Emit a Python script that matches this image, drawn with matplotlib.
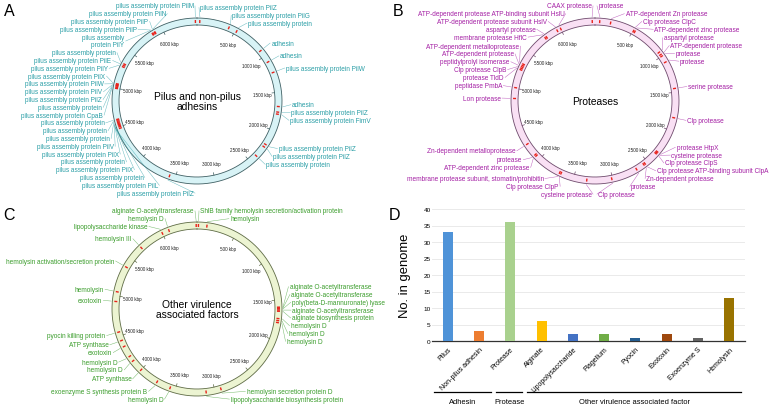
import numpy as np
import matplotlib
matplotlib.use("Agg")
import matplotlib.pyplot as plt

plt.rcParams["font.family"] = ["Liberation Sans", "DejaVu Sans"]

GENOME_KBP = 6450
TICK_KBP = list(range(500, 6001, 500))

# --- Panel A: pilus and non-pilus adhesins (name, position in kbp)
adh_names = [
    "pilus assembly protein PilZ", "pilus assembly protein PilG", "pilus assembly protein",
    "adhesin", "adhesin", "pilus assembly protein PilW", "adhesin",
    "pilus assembly protein PilZ", "pilus assembly protein FimV",
    "pilus assembly protein PilZ", "pilus assembly protein PilZ", "pilus assembly protein",
    "pilus assembly protein PilZ", "pilus assembly protein PilL", "pilus assembly protein",
    "pilus assembly protein PilX", "pilus assembly protein", "pilus assembly protein PilX",
    "pilus assembly protein PilV", "pilus assembly protein", "pilus assembly protein",
    "pilus assembly protein", "pilus assembly protein CpaB", "pilus assembly protein",
    "pilus assembly protein PilZ", "pilus assembly protein PilV", "pilus assembly protein PilW",
    "pilus assembly protein PilX", "pilus assembly protein PilY", "pilus assembly protein PilE",
    "pilus assembly protein", "pilus assembly\nprotein PilY", "pilus assembly protein PilP",
    "pilus assembly protein PilP", "pilus assembly protein PilN", "pilus assembly protein PilM",
]
adh_kbp = [35, 412, 520, 914, 1086, 1236, 1684, 1756, 1783, 2204, 2240, 2392, 3578,
           4480, 4500, 4515, 4530, 4545, 4560, 4575, 4590, 4600,
           5000, 5015, 5030, 5040, 5050, 5060, 5290, 5310, 5330,
           5860, 5870, 5890, 5900, 6430]

# --- Panel B: proteases
prot_names = [
    "protease", "ATP-dependent Zn protease", "Clp protease ClpC", "ATP-dependent zinc protease",
    "aspartyl protease", "ATP-dependent protease", "protease", "protease", "serine protease",
    "Clp protease", "protease HtpX", "cysteine protease", "Clp protease ClpS",
    "Clp protease ATP-binding subunit ClpA", "Zn-dependent protease", "protease", "Clp protease",
    "cysteine protease", "Clp protease ClpP", "membrane protease subunit, stomatin/prohibitin",
    "ATP-dependent zinc protease", "protease", "Zn-dependent metalloprotease", "Lon protease",
    "peptidase PmbA", "protease TldD", "Clp protease ClpB", "peptidylprolyl isomerase",
    "ATP-dependent protease", "ATP-dependent metalloprotease", "membrane protease HflC",
    "aspartyl protease", "ATP-dependent protease subunit HslV",
    "ATP-dependent protease ATP-binding subunit HslU", "CAAX protease",
]
prot_kbp = [60, 200, 510, 530, 940, 975, 1000, 1090, 1450, 1830, 2320, 2335, 2350, 2540,
            2560, 2670, 3010, 3330, 3670, 3690, 4060, 4080, 4250, 4870, 5010, 5250, 5270,
            5290, 5310, 5330, 5770, 5790, 5950, 6000, 6415]

# --- Panel C: other virulence associated factors
oth_names = [
    "ShlB family hemolysin secretion/activation protein", "hemolysin",
    "alginate O-acetyltransferase", "alginate O-acetyltransferase",
    "poly(beta-D-mannuronate) lyase", "alginate O-acetyltransferase",
    "alginate biosynthesis protein", "hemolysin D", "hemolysin D", "hemolysin D",
    "hemolysin secretion protein D", "lipopolysaccharide biosynthesis protein", "hemolysin D",
    "exoenzyme S synthesis protein B", "ATP synthase", "hemolysin D", "hemolysin D", "exotoxin",
    "ATP synthase", "pyocin killing protein", "exotoxin", "hemolysin",
    "hemolysin activation/secretion protein", "hemolysin III", "lipopolysaccharide kinase",
    "hemolysin D", "alginate O-acetyltransferase",
]
oth_kbp = [18, 125, 1590, 1600, 1610, 1625, 1640, 1730, 1755, 1780, 2920, 3110, 3570, 3750,
           4000, 4150, 4220, 4360, 4440, 4550, 4930, 5050, 5375, 5680, 6000, 6090, 6440]

# --- Panel D: counts per category
categories = ["Pilus", "Non-pilus adhesin", "Protease", "Alginate", "Lipopolysaccharide",
              "Flagellum", "Pyocin", "Exotoxin", "Exoenzyme S", "Hemolysin"]
counts = [33, 3, 36, 6, 2, 2, 1, 2, 1, 13]
bar_colors = ["#4f93d8", "#ed7d31", "#a9d18e", "#ffc000", "#4472c4",
              "#70ad47", "#255e91", "#9e480e", "#636363", "#997300"]
groups = [("Adhesin", 0, 1), ("Protease", 2, 2), ("Other virulence associated factor", 3, 9)]


def spread(want, heights, lo, hi):
    """Push label centres apart so they don't overlap, keeping clusters centred."""
    def place(a, b):
        h = np.array(heights[a:b])
        tops = np.concatenate([[0], np.cumsum(h)])
        top = np.mean(np.array(want[a:b]) - (tops[:-1] + h / 2))
        return min(max(top, lo), hi - tops[-1]), tops[-1]

    clusters = []
    for i in range(len(want)):
        clusters.append([i, i + 1])
        while len(clusters) > 1:
            (a, b), (c, d) = clusters[-2], clusters[-1]
            t1, h1 = place(a, b)
            t2, _ = place(c, d)
            if t1 + h1 > t2:
                clusters[-2:] = [[a, d]]
            else:
                break
    ys = []
    for a, b in clusters:
        y, _ = place(a, b)
        for k in range(a, b):
            ys.append(y + heights[k] / 2)
            y += heights[k]
    return ys


def draw_map(ax, cx, cy, rx, ry, names, kbp, title, fill, edge, color, ylo, yhi, row=7.8):
    t = np.linspace(0, 2 * np.pi, 500)
    w = 7
    xo, yo = cx + rx * np.sin(t), cy - ry * np.cos(t)
    xi, yi = cx + (rx - w) * np.sin(t), cy - (ry - w) * np.cos(t)
    ax.fill(np.r_[xo, xi[::-1]], np.r_[yo, yi[::-1]], color=fill, lw=0)
    ax.plot(xo, yo, color=edge, lw=0.6)
    ax.plot(xi, yi, color=edge, lw=0.6)

    for k in TICK_KBP:
        a = 2 * np.pi * k / GENOME_KBP
        s, c = np.sin(a), np.cos(a)
        ax.plot([cx + (rx - w) * s, cx + (rx - w - 2.5) * s],
                [cy - (ry - w) * c, cy - (ry - w - 2.5) * c], color=edge, lw=0.5)
        ax.text(cx + (rx - 19) * s, cy - (ry - 19) * c, f"{k} kbp", fontsize=3.3,
                ha="center", va="center", color="#222222")

    ax.text(cx, cy, title, fontsize=7.4, ha="center", va="center", linespacing=0.95)

    ang = 2 * np.pi * np.array(kbp) / GENOME_KBP
    for a in ang:
        s, c = np.sin(a), np.cos(a)
        ax.plot([cx + (rx - 5) * s, cx + (rx - 2) * s],
                [cy - (ry - 5) * c, cy - (ry - 2) * c], color="#e8221b", lw=1.0,
                solid_capstyle="butt")

    rlx, rly = rx + 9, ry + 9
    for side in (-1, 1):
        idx = [i for i, a in enumerate(ang) if np.sign(np.sin(a)) == side or
               (np.sin(a) == 0 and side == 1)]
        idx.sort(key=lambda i: cy - rly * np.cos(ang[i]))
        want = [cy - rly * np.cos(ang[i]) for i in idx]
        hts = [row * (names[i].count("\n") + 1) for i in idx]
        ys = spread(want, hts, ylo, yhi)
        for i, y in zip(idx, ys):
            d = (y - cy) / rly
            x = cx + side * (rlx * np.sqrt(1 - d * d) if abs(d) < 1 else 2)
            a = ang[i]
            ax.plot([cx + (rx + 1) * np.sin(a), x], [cy - (ry + 1) * np.cos(a), y],
                    color=color, lw=0.35, alpha=0.7)
            ax.text(x + side * 1.2, y, names[i], fontsize=4.7, color=color,
                    ha="left" if side > 0 else "right", va="center", linespacing=0.9)


fig = plt.figure(figsize=(7.8, 4.1), dpi=100)
ax = fig.add_axes([0, 0, 1, 1])
ax.set_xlim(0, 780)
ax.set_ylim(410, 0)
ax.axis("off")

draw_map(ax, 197, 102, 85, 83, adh_names, adh_kbp, "Pilus and non-pilus\nadhesins",
         "#d8f3f6", "#3f5f63", "#2a9ea6", 3, 198)
draw_map(ax, 595, 102, 84, 83, prot_names, prot_kbp, "Proteases",
         "#f9e0f4", "#6e4a6c", "#a41fa4", 3, 199)
draw_map(ax, 197, 310, 85, 87, oth_names, oth_kbp, "Other virulence\nassociated factors",
         "#ecf4d2", "#5e6b45", "#3b9d2c", 208, 404)

for letter, (px, py) in zip("ABCD", [(9, 12), (398, 12), (9, 216), (395, 216)]):
    ax.text(px, py, letter, fontsize=11.5, ha="center", va="center")

# --- Panel D bar chart
L, R, B, T = 432, 745, 342, 210
bx = fig.add_axes([L / 780, 1 - B / 410, (R - L) / 780, (B - T) / 410])
x = np.arange(len(categories))
bx.bar(x, counts, width=0.32, color=bar_colors, zorder=3)
bx.set_xlim(-0.5, len(categories) - 0.5)
bx.set_ylim(0, 40)
bx.set_yticks(range(0, 41, 5))
bx.grid(axis="y", color="#e6e6e6", lw=0.6)
bx.set_axisbelow(True)
for s in ("top", "right", "left"):
    bx.spines[s].set_visible(False)
bx.spines["bottom"].set_color("#333333")
bx.spines["bottom"].set_linewidth(0.9)
bx.tick_params(axis="y", length=0, labelsize=4.6, pad=1)
bx.tick_params(axis="x", length=0, labelsize=5, pad=3)
bx.set_xticks(x)
bx.set_xticklabels(categories, rotation=45, ha="right", va="top", rotation_mode="anchor")
bx.set_ylabel("No. in genome", fontsize=9.4)
bx.yaxis.set_label_coords(-(L - 411) / (R - L), 0.5)

trans = bx.get_xaxis_transform()
for name, first, last in groups:
    bx.plot([first - 0.45, last + 0.38], [-0.386, -0.386], color="black", lw=0.9,
            transform=trans, clip_on=False)
    bx.text((first + last) / 2 - 0.03, -0.455, name, fontsize=5.4, ha="center", va="center",
            transform=trans)

fig.savefig("out.png", dpi=100)
